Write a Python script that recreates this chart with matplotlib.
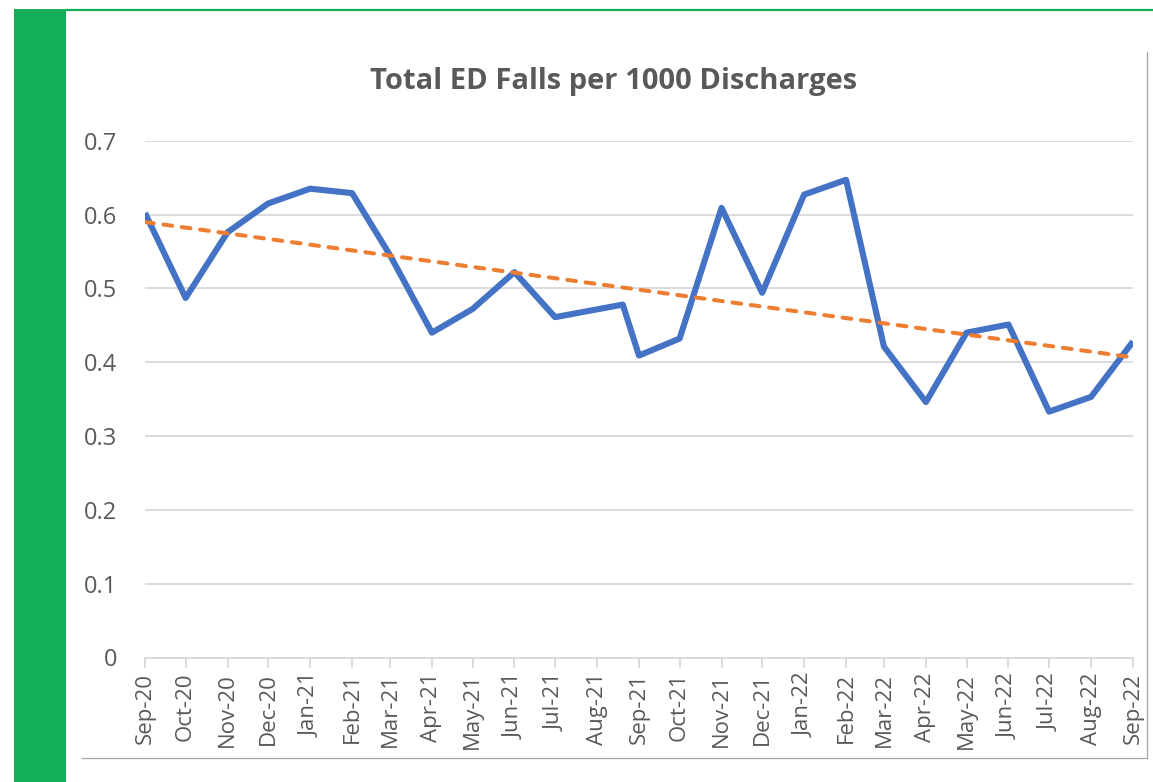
import matplotlib
matplotlib.use("Agg")
import matplotlib.pyplot as plt
import matplotlib.dates as mdates
from matplotlib.lines import Line2D
from matplotlib.patches import Rectangle
import numpy as np
import pandas as pd

# ---- data ----
dates = ["2020-09-01", "2020-10-01", "2020-11-01", "2020-12-01",
         "2021-01-01", "2021-02-01", "2021-03-01", "2021-04-01",
         "2021-05-01", "2021-06-01", "2021-07-01", "2021-08-20",
         "2021-09-01", "2021-10-01", "2021-11-01", "2021-12-01",
         "2022-01-01", "2022-02-01", "2022-03-01", "2022-04-01",
         "2022-05-01", "2022-06-01", "2022-07-01", "2022-08-01",
         "2022-09-01"]
falls_rate = [0.602, 0.487, 0.576, 0.615,
              0.635, 0.629, 0.545, 0.440,
              0.472, 0.522, 0.461, 0.478,
              0.409, 0.432, 0.609, 0.494,
              0.627, 0.647, 0.421, 0.346,
              0.440, 0.451, 0.333, 0.353,
              0.428]
title = "Total ED Falls per 1000 Discharges"
y_ticks = [0, 0.1, 0.2, 0.3, 0.4, 0.5, 0.6, 0.7]
y_labels = ["0", "0.1", "0.2", "0.3", "0.4", "0.5", "0.6", "0.7"]
axis_start, axis_end = "2020-09-01", "2022-09-01"

W, H = 1153, 782
fig = plt.figure(figsize=(W / 100, H / 100), dpi=100)
fig.patch.set_facecolor("white")

GREEN = "#13AE57"
# left green bar and top green line
fig.add_artist(Rectangle((14 / W, 0), (66 - 14) / W, 1 - 9 / H,
                         transform=fig.transFigure, color=GREEN, lw=0))
fig.add_artist(Line2D([66 / W, 1], [1 - 10.3 / H, 1 - 10.3 / H],
                      transform=fig.transFigure, color=GREEN, lw=1.6))
# chart frame (right and bottom edges)
fig.add_artist(Line2D([1147 / W, 1147 / W], [1 - 52 / H, 1 - 758 / H],
                      transform=fig.transFigure, color="#A6A6A6", lw=0.9))
fig.add_artist(Line2D([82 / W, 1147 / W], [1 - 758 / H, 1 - 758 / H],
                      transform=fig.transFigure, color="#A6A6A6", lw=0.9))

left, right = 145 / W, 1133 / W
top, bottom = 1 - 140.7 / H, 1 - 657.5 / H
ax = fig.add_axes([left, bottom, right - left, top - bottom])

x = pd.to_datetime(dates)
xn = mdates.date2num(x)
y = np.array(falls_rate)

ax.plot(x, y, color="#4472C4", lw=4.4, solid_joinstyle="round",
        solid_capstyle="butt", zorder=3)

# linear trendline
coef = np.polyfit(xn, y, 1)
x0 = mdates.date2num(pd.Timestamp(axis_start))
x1 = mdates.date2num(pd.Timestamp(axis_end))
tx = np.array([x0, x1])
ax.plot(mdates.num2date(tx), np.polyval(coef, tx), color="#ED7D31", lw=2.9,
        dashes=(2.2, 2.4), dash_capstyle="round", zorder=4)

ax.set_xlim(pd.Timestamp(axis_start), pd.Timestamp(axis_end))
ax.set_ylim(0, 0.7)

ax.set_yticks(y_ticks)
ax.set_yticklabels(y_labels)
ax.grid(axis="y", color="#D9D9D9", lw=1.3)
ax.set_axisbelow(True)

ax.xaxis.set_major_locator(mdates.MonthLocator())
ax.xaxis.set_major_formatter(mdates.DateFormatter("%b-%y"))

for s in ["top", "right", "left"]:
    ax.spines[s].set_visible(False)
ax.spines["bottom"].set_color("#D9D9D9")
ax.spines["bottom"].set_linewidth(1.3)

FONT = "Open Sans"
ax.tick_params(axis="y", length=0, pad=20, labelsize=17, labelcolor="#595959")
ax.tick_params(axis="x", length=7, width=1.3, color="#D9D9D9", pad=4,
               labelsize=16, labelcolor="#595959", labelrotation=90)
for lab in ax.get_xticklabels() + ax.get_yticklabels():
    lab.set_family(FONT)

fig.text(614 / W, 1 - 82 / H, title, ha="center", va="center",
         fontsize=21, fontweight="bold", color="#595959", family=FONT)

fig.savefig("out.png", dpi=100, facecolor="white")
